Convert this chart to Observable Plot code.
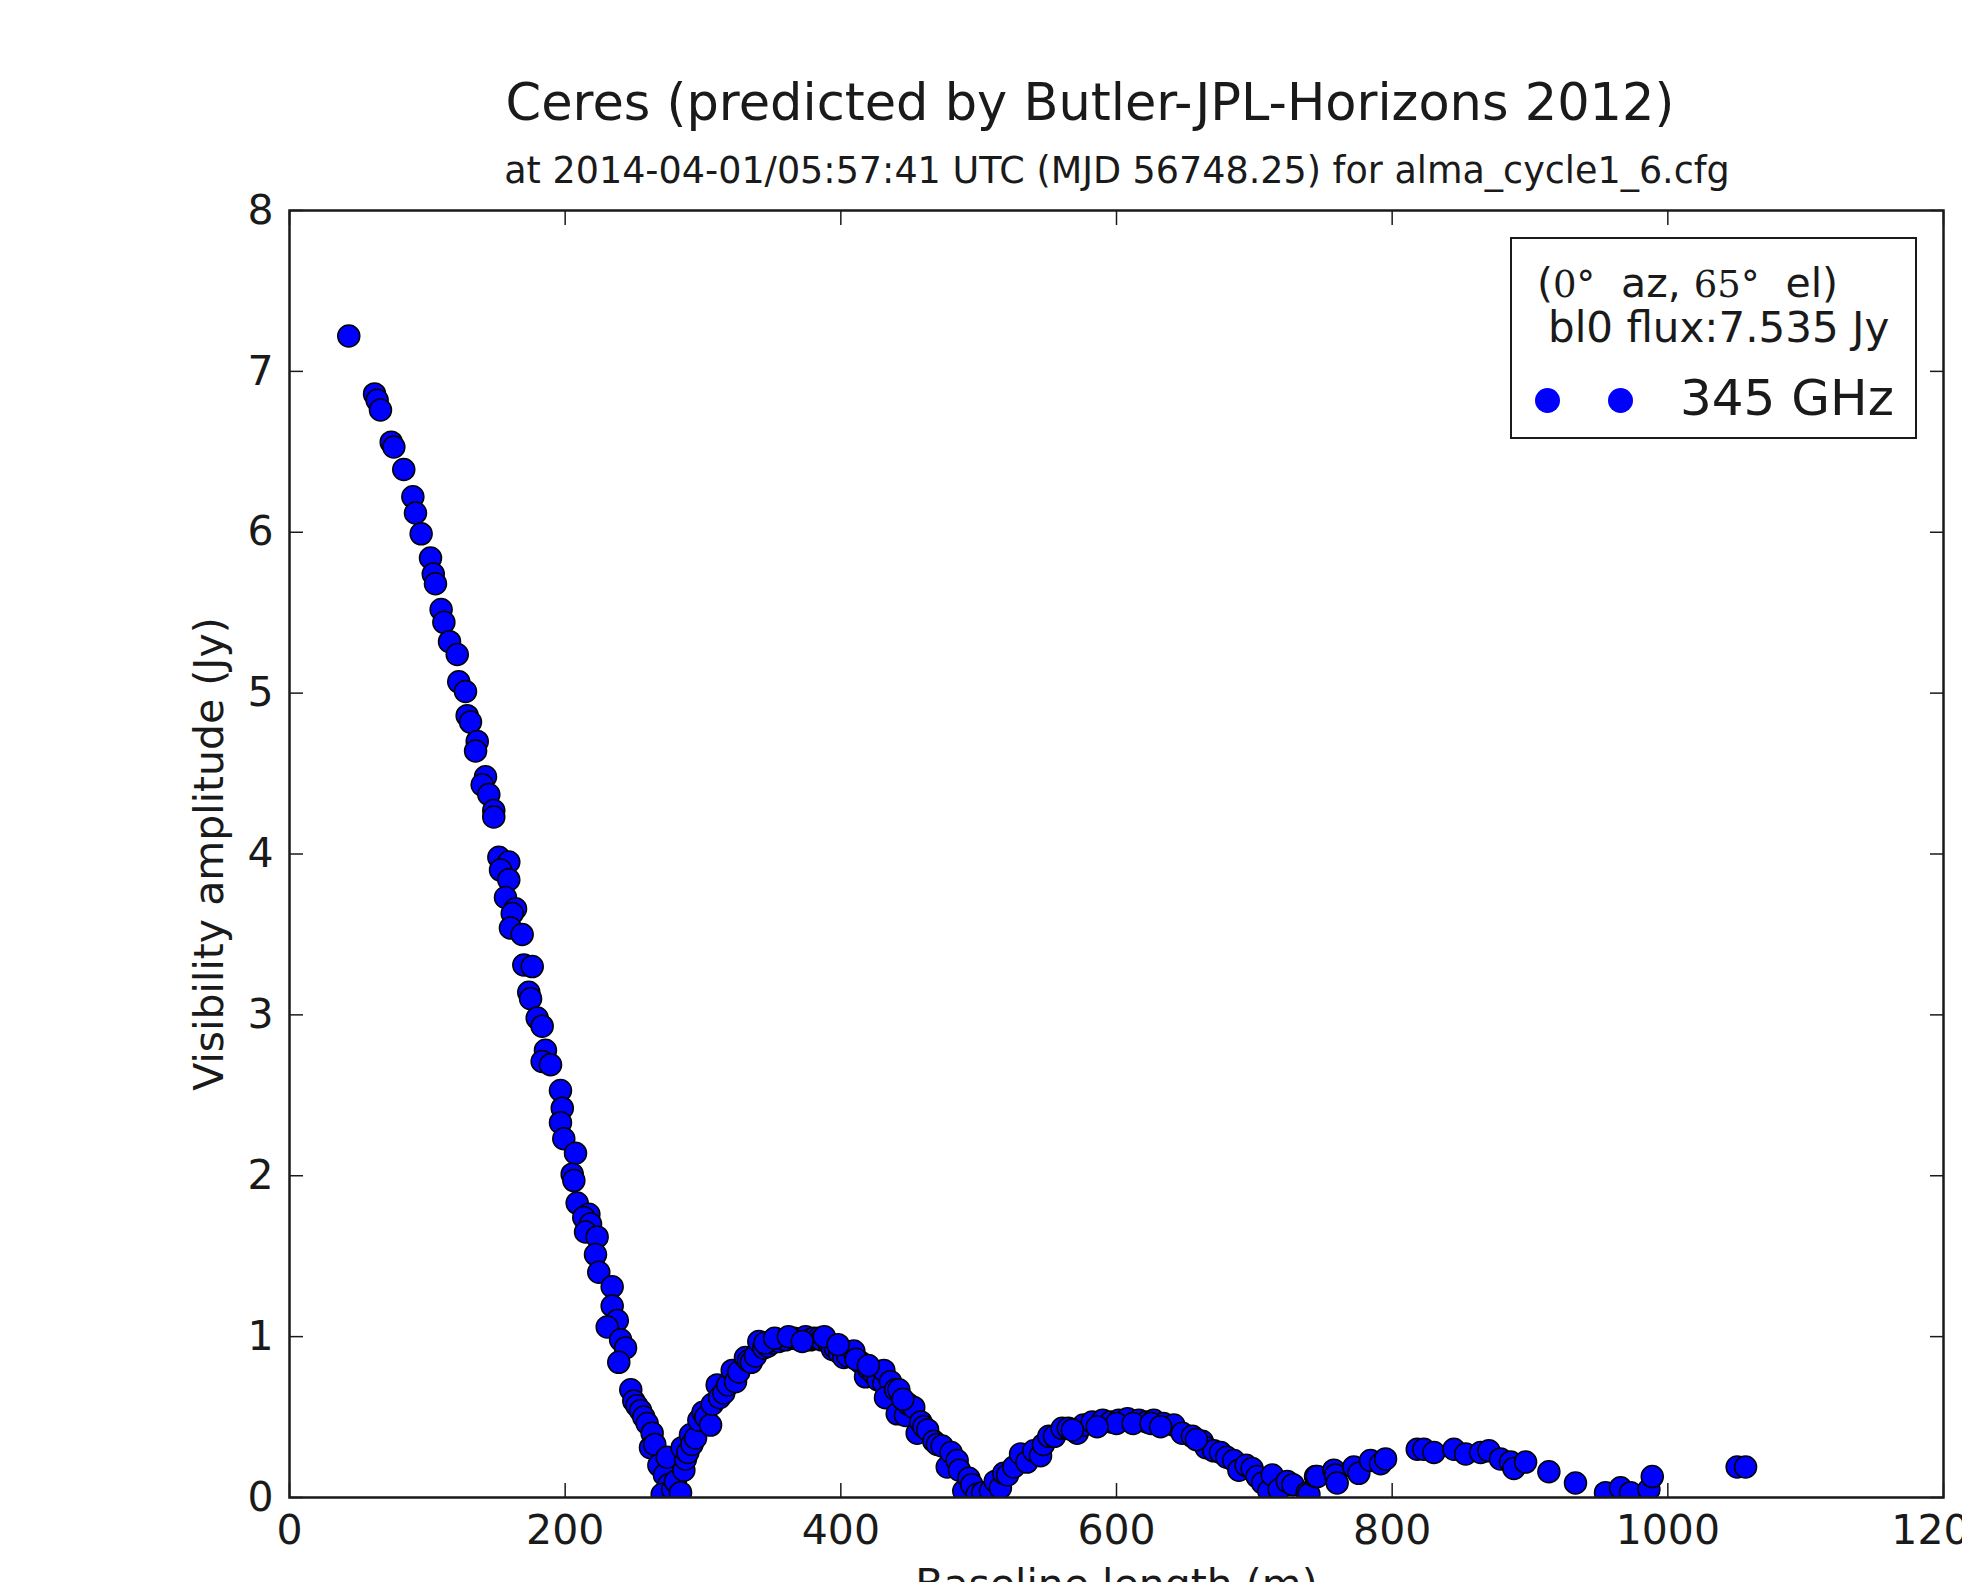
<!DOCTYPE html>
<html>
<head>
<meta charset="utf-8">
<script src="https://cdn.jsdelivr.net/npm/d3@7"></script>
<script src="https://cdn.jsdelivr.net/npm/@observablehq/plot@0.6"></script>
<style>
  html, body { margin: 0; padding: 0; background: #fff; overflow: hidden; }
  #page { position: relative; width: 1962px; height: 1582px; overflow: hidden; font-family: "DejaVu Sans", sans-serif; color: #1a1a1a; }
  .abs { position: absolute; line-height: 1; white-space: pre; }
  #title { font-size: 51px; top: 77px; left: 1090px; transform: translateX(-50%); }
  #subtitle { font-size: 36.5px; top: 153px; left: 1117px; transform: translateX(-50%); }
  #chart { position: absolute; top: 190px; left: 0; }
  #legendBox { position: absolute; left: 1510px; top: 237px; width: 403px; height: 198px; border: 2px solid #1a1a1a; background: #fff; }
  .serif { font-family: "DejaVu Serif", serif; font-size: 37px; }
  .ldot { position: absolute; width: 25px; height: 25px; border-radius: 50%; background: #0000ff; }
</style>
</head>
<body>
<div id="page">
  <div id="title" class="abs">Ceres (predicted by Butler-JPL-Horizons 2012)</div>
  <div id="subtitle" class="abs">at 2014-04-01/05:57:41 UTC (MJD 56748.25) for alma_cycle1_6.cfg</div>
  <div id="chart"></div>
  <div id="legendBox"></div>
  <div class="abs" style="font-size:41px; left:1537px; top:263px;">(<span class="serif">0°</span>  az, <span class="serif">65°</span>  el)</div>
  <div class="abs" style="font-size:42px; left:1548px; top:307px;">bl0 flux:7.535 Jy</div>
  <div class="ldot" style="left:1535px; top:388px;"></div>
  <div class="ldot" style="left:1608px; top:388px;"></div>
  <div class="abs" style="font-size:50px; left:1680px; top:373px;">345 GHz</div>
</div>
<script>
// Baseline length (m) and visibility amplitude (Jy)
const baseline = [
  43.0, 61.7, 63.6, 66.0, 73.8, 75.7, 82.9, 89.5, 91.4, 95.5,
  102.3, 104.3, 105.9, 110.0, 112.0, 116.1, 121.7, 122.8, 127.7, 128.9,
  131.3, 136.2, 135.0, 142.2, 139.8, 144.6, 148.2, 148.2, 151.9, 159.1,
  153.1, 159.1, 156.7, 164.0, 161.6, 160.3, 168.8, 170.0, 176.1, 173.6,
  174.9, 179.7, 183.3, 185.7, 183.3, 189.4, 196.6, 197.9, 196.6, 199.0,
  207.5, 205.1, 206.3, 208.7, 217.2, 213.5, 218.4, 214.8, 223.2, 222.0,
  224.4, 234.1, 234.1, 237.8, 230.5, 240.2, 243.8, 238.9,
  247.6, 249.8, 252.0, 254.7, 257.0, 259.5, 263.1, 261.9, 265.0, 268.0,
  272.0, 274.0, 275.2, 270.4, 278.0, 280.0, 283.7,
  286.1, 287.3, 284.9, 289.0, 290.9, 292.0, 294.6, 297.0, 300.0, 302.0,
  305.5, 306.7, 310.3, 312.0, 315.1, 318.0, 321.2, 323.6, 326.0, 330.8,
  333.0, 335.0, 338.0, 340.5, 344.1, 347.0, 350.0, 355.0, 359.9, 366.0,
  370.0, 374.4, 378.0, 380.4, 384.0, 386.0, 391.3, 394.0, 396.0, 399.0,
  402.2, 405.0, 409.4, 414.3, 417.9, 420.0, 424.0, 427.0, 431.2, 431.2,
  436.0, 432.4, 439.7, 442.1, 440.9, 446.9, 449.0, 452.9, 455.4, 458.0,
  460.2, 463.0, 467.5, 470.0, 473.5, 477.2, 480.0, 484.4, 486.0, 489.2,
  492.9, 495.0, 498.9, 503.0, 508.6, 512.0, 515.8, 518.2, 521.0, 525.5,
  530.4, 535.0, 540.0, 544.9, 547.0, 550.9, 555.0, 560.6, 565.0, 571.5,
  576.0, 582.4, 590.0, 596.0, 601.7, 608.0, 616.2, 622.0, 627.1, 634.0,
  641.6, 647.7, 655.0, 662.2, 665.0, 670.6, 675.5, 680.0, 685.1, 688.8,
  694.0, 698.4, 702.0, 706.0, 710.5, 713.0, 718.0, 723.9, 728.0, 738.4,
  739.6, 744.4, 745.6, 757.7, 758.9, 760.1, 772.2, 775.8, 784.3, 791.6,
  795.2, 818.2, 823.0, 830.3, 844.8, 853.3, 864.2, 870.2, 878.6, 885.9,
  888.3, 896.8, 913.7, 933.0, 954.8, 965.7, 973.0, 986.3, 988.7, 1050.3,
  1056.4,
  345.0, 352.0, 362.0, 372.0, 388.0, 398.0, 411.0, 420.0, 445.0, 600.0,
  612.0, 625.0, 568.0, 586.0, 632.0, 658.0
];
const amplitude = [
  7.22, 6.86, 6.82, 6.76, 6.56, 6.53, 6.39, 6.22, 6.12, 5.99,
  5.84, 5.74, 5.68, 5.52, 5.44, 5.32, 5.24, 5.07, 5.01, 4.86,
  4.82, 4.70, 4.64, 4.48, 4.43, 4.37, 4.27, 4.23, 3.98, 3.95,
  3.90, 3.84, 3.73, 3.66, 3.63, 3.54, 3.50, 3.31, 3.30, 3.14,
  3.10, 2.98, 2.93, 2.78, 2.71, 2.69, 2.53, 2.42, 2.33, 2.23,
  2.14, 2.01, 1.97, 1.83, 1.76, 1.74, 1.70, 1.65, 1.62, 1.51,
  1.40, 1.31, 1.19, 1.10, 1.06, 0.98, 0.93, 0.84,
  0.67, 0.60, 0.57, 0.54, 0.50, 0.46, 0.40, 0.31, 0.33, 0.20,
  0.14, 0.25, 0.08, 0.02, 0.05, 0.10, 0.03,
  0.17, 0.24, 0.31, 0.28, 0.39, 0.33, 0.37, 0.48, 0.53, 0.50,
  0.45, 0.58, 0.70, 0.62, 0.65, 0.70, 0.79, 0.72, 0.78, 0.87,
  0.85, 0.84, 0.88, 0.97, 0.93, 0.94, 0.96, 0.97, 0.98, 0.99,
  0.98, 1.00, 0.98, 0.99, 0.99, 0.98, 0.96, 0.92, 0.93, 0.90,
  0.87, 0.88, 0.91, 0.84, 0.75, 0.80, 0.77, 0.73, 0.71, 0.79,
  0.72, 0.62, 0.67, 0.67, 0.52, 0.51, 0.58, 0.56, 0.40, 0.47,
  0.44, 0.42, 0.35, 0.33, 0.32, 0.19, 0.28, 0.23, 0.17, 0.04,
  0.12, 0.08, 0.02, 0.03, 0.04, 0.10, 0.06, 0.15, 0.14, 0.19,
  0.27, 0.22, 0.29, 0.26, 0.33, 0.38, 0.38, 0.43, 0.43, 0.40,
  0.45, 0.47, 0.48, 0.47, 0.48, 0.49, 0.48, 0.47, 0.48, 0.46,
  0.45, 0.40, 0.38, 0.35, 0.31, 0.29, 0.28, 0.25, 0.23, 0.17,
  0.20, 0.18, 0.13, 0.09, 0.04, 0.14, 0.05, 0.10, 0.08, 0.03,
  0.02, 0.13, 0.13, 0.17, 0.14, 0.09, 0.19, 0.15, 0.23, 0.21,
  0.24, 0.30, 0.30, 0.28, 0.30, 0.27, 0.28, 0.29, 0.24, 0.22,
  0.18, 0.22, 0.16, 0.09, 0.03, 0.06, 0.03, 0.05, 0.13, 0.19,
  0.19,
  0.96, 0.99, 1.00, 0.97, 1.00, 0.95, 0.86, 0.82, 0.61, 0.46,
  0.46, 0.46, 0.42, 0.44, 0.44, 0.36
];
const xTicks = [0, 200, 400, 600, 800, 1000, 1200];
const yTicks = [0, 1, 2, 3, 4, 5, 6, 7, 8];

const data = baseline.map((b, i) => ({ b, v: amplitude[i] }));
const plain = (d) => String(d);

const chart = Plot.plot({
  width: 1962,
  height: 1417,
  marginLeft: 289,
  marginRight: 19,
  marginTop: 20,
  marginBottom: 110,
  style: { fontFamily: "'DejaVu Sans', sans-serif", fontSize: "41px", color: "#1a1a1a", background: "transparent", overflow: "visible" },
  x: { domain: [0, 1200] },
  y: { domain: [0, 8] },
  marks: [
    Plot.dot(data, { x: "b", y: "v", r: 11, fill: "#0000ff", stroke: "#000", strokeWidth: 1.5, clip: true }),
    Plot.frame({ stroke: "#1a1a1a", strokeWidth: 2.5 }),
    Plot.axisX(xTicks, { anchor: "bottom", tickSize: -14, tickPadding: 31, strokeWidth: 1.5, tickFormat: plain, label: "Baseline length (m)", labelAnchor: "center", labelArrow: "none", labelOffset: 100 }),
    Plot.axisX(xTicks, { anchor: "top", tickSize: -14, strokeWidth: 1.5, tickFormat: () => "", label: null }),
    Plot.axisY(yTicks, { anchor: "left", tickSize: -14, tickPadding: 30, strokeWidth: 1.5, tickFormat: plain, label: "Visibility amplitude (Jy)", labelAnchor: "center", labelArrow: "none", labelOffset: 96 }),
    Plot.axisY(yTicks, { anchor: "right", tickSize: -14, strokeWidth: 1.5, tickFormat: () => "", label: null })
  ]
});
document.getElementById("chart").appendChild(chart);
</script>
</body>
</html>
